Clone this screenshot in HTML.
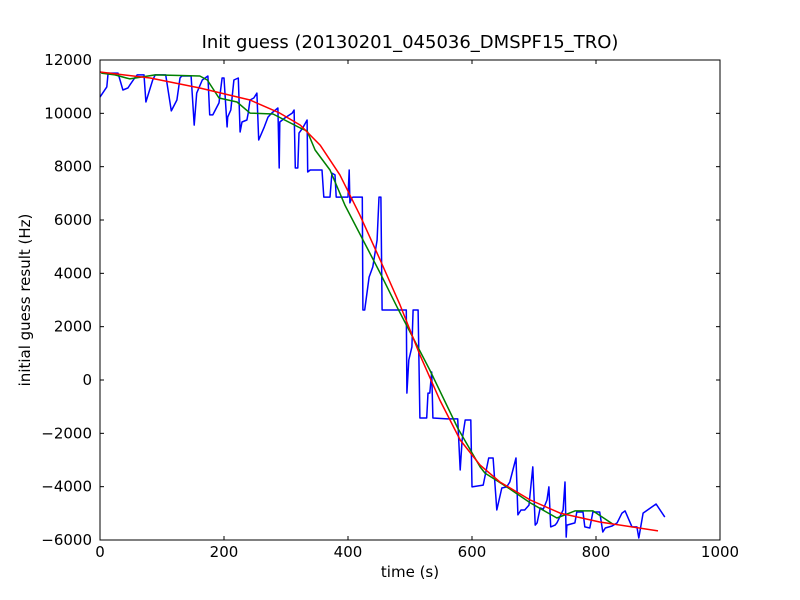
<!DOCTYPE html>
<html><head><meta charset="utf-8"><style>
body{margin:0;background:#fff}
svg{display:block;font-family:"DejaVu Sans","Liberation Sans",sans-serif}
</style></head><body>
<svg id="c" width="800" height="600" xmlns="http://www.w3.org/2000/svg">
<rect x="0" y="0" width="800" height="600" fill="#fff"/>
<text x="410" y="48" font-size="18" text-anchor="middle">Init guess (20130201_045036_DMSPF15_TRO)</text>
<text x="410" y="577" font-size="15" text-anchor="middle">time (s)</text>
<text x="30" y="300" font-size="15" text-anchor="middle" transform="rotate(-90 30 300)">initial guess result (Hz)</text>
<g id="marks"></g>
<g id="axes"></g>
<rect x="100" y="60" width="620" height="480" fill="none" stroke="#000" stroke-width="1"/>
</svg>
<script>
const xTicks=[0,200,400,600,800,1000];
const yTicks=[-6000,-4000,-2000,0,2000,4000,6000,8000,10000,12000];
const blueT=[0,11,13,29,37,45,48,56,60,71,74,85,89,106,115,124,129,132,147,152,156,165,174,177,182,192,197,200,205,206,211,216,223,226,229,237,239,242,248,253,256,265,271,277,287,289,290,298,310,313,315,319,321,327,334,335,339,358,361,371,374,379,381,400,402,403,406,408,423,424,427,434,440,447,450,453,455,494,495,498,503,505,513,516,527,529,532,535,537,560,577,581,584,589,598,600,618,627,634,640,648,656,661,671,674,679,685,692,698,702,705,710,715,721,724,727,734,737,747,750,752,753,766,769,779,782,790,795,806,811,815,826,834,842,847,858,866,869,876,897,911];
const blueV=[10610,10990,11510,11510,10875,10950,11060,11325,11440,11440,10425,11250,11440,11440,10090,10500,11325,11400,11400,9560,10760,11250,11400,9940,9940,10390,11325,11325,9490,9860,10125,11250,11325,9300,9675,9750,10010,10500,10575,10760,9000,9490,9860,10010,10200,7950,9675,9825,10010,10125,7950,7950,9260,9450,9750,7800,7875,7875,6860,6860,7760,7690,6860,6860,7875,6640,6825,6860,6860,2625,2625,3860,4240,5250,6860,6860,2625,2625,-490,750,1240,2625,2625,-1425,-1425,-490,-490,300,-1425,-1460,-1460,-3375,-2250,-1500,-1500,-4010,-3940,-2925,-2925,-4875,-4050,-4010,-3825,-2925,-5060,-4875,-4875,-4690,-3260,-5440,-5360,-4800,-4840,-4500,-4010,-5510,-5440,-5360,-4875,-3825,-5890,-5440,-5360,-4950,-4950,-5510,-5550,-4950,-4950,-5700,-5550,-5475,-5360,-4990,-4910,-5510,-5510,-5925,-4990,-4650,-5140];
const greenT=[2,24,48,89,161,173,192,221,242,279,323,334,347,371,395,452,479,532,577,613,621,656,694,737,766,795,827];
const greenV=[11510,11440,11290,11440,11400,11250,10575,10425,10010,9975,9450,9340,8625,7875,6560,4010,2740,375,-1800,-3260,-3490,-4010,-4610,-5175,-4910,-4910,-5400];
const redT=[0,81,161,242,290,323,355,387,419,452,484,516,548,581,613,645,694,742,806,900];
const redV=[11550,11325,10950,10500,10010,9560,8810,7690,6190,4500,2810,940,-750,-2250,-3190,-3825,-4500,-4990,-5325,-5660];

const NS='http://www.w3.org/2000/svg';
const X0=100,X1=720,Y0=540,Y1=60;
function sx(t){return X0+(t-0)/(1000-0)*(X1-X0);}
function sy(v){return Y0-(v-(-6000))/(12000-(-6000))*(Y0-Y1);}
const marks=document.getElementById('marks');
const axes=document.getElementById('axes');
function line(ts,vs,color,name){
  const p=document.createElementNS(NS,'polyline');
  p.setAttribute('points',ts.map((t,i)=>sx(t).toFixed(1)+','+sy(vs[i]).toFixed(1)).join(' '));
  p.setAttribute('fill','none');p.setAttribute('stroke',color);p.setAttribute('stroke-width','1.5');
  p.setAttribute('stroke-linejoin','round');
  
  
  marks.appendChild(p);
}
line(blueT,blueV,'#0000ff','series-raw-guess');
line(greenT,greenV,'#008000','series-smoothed');
line(redT,redV,'#ff0000','series-fit');
xTicks.forEach(t=>{
  const x=sx(t);
  [[Y0,Y0-4],[Y1,Y1+4]].forEach(([a,b])=>{
    const l=document.createElementNS(NS,'line');
    l.setAttribute('x1',x);l.setAttribute('x2',x);l.setAttribute('y1',a);l.setAttribute('y2',b);l.setAttribute('stroke','#000');
    
    
    axes.appendChild(l);
  });
  const tx=document.createElementNS(NS,'text');
  tx.setAttribute('x',x);tx.setAttribute('y',557);tx.setAttribute('font-size','15');tx.setAttribute('text-anchor','middle');
  tx.textContent=t;
  
  
  axes.appendChild(tx);
});
yTicks.forEach(v=>{
  const y=sy(v);
  [[X0,X0+4],[X1,X1-4]].forEach(([a,b])=>{
    const l=document.createElementNS(NS,'line');
    l.setAttribute('x1',a);l.setAttribute('x2',b);l.setAttribute('y1',y);l.setAttribute('y2',y);l.setAttribute('stroke','#000');
    
    
    axes.appendChild(l);
  });
  const tx=document.createElementNS(NS,'text');
  tx.setAttribute('x',92);tx.setAttribute('y',y+5);tx.setAttribute('font-size','15');tx.setAttribute('text-anchor','end');
  tx.textContent=v<0?'\u2212'+Math.abs(v):v;
  
  
  axes.appendChild(tx);
});
</script>
</body></html>
